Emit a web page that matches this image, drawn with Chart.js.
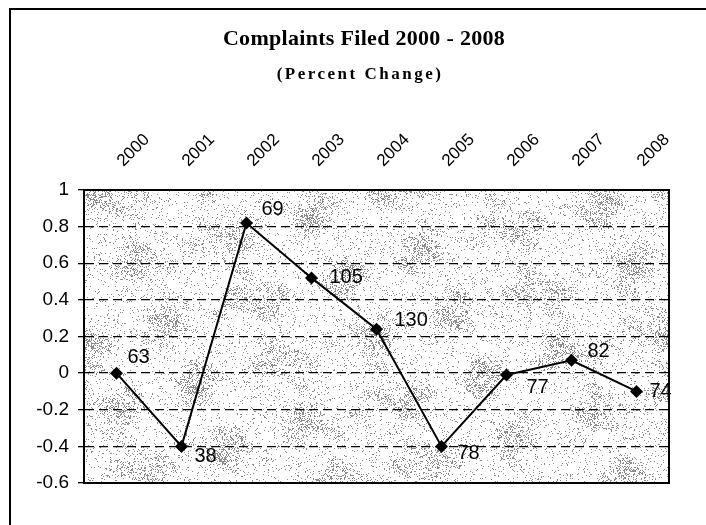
<!DOCTYPE html>
<html>
<head>
<meta charset="utf-8">
<script src="https://cdn.jsdelivr.net/npm/chart.js@4/dist/chart.umd.min.js"></script>
<style>
html,body{margin:0;padding:0;background:#fff;}
#wrap{position:relative;width:706px;height:525px;}
canvas{display:block;}
</style>
</head>
<body>
<div id="wrap"><canvas id="c" width="706" height="525"></canvas></div>
<script>
// ---- data ----
const titleText = 'Complaints Filed 2000 - 2008';
const subtitleText = '(Percent Change)';
const years = ['2000', '2001', '2002', '2003', '2004', '2005', '2006', '2007', '2008'];
const percentChange = [0, -0.4, 0.82, 0.52, 0.24, -0.4, -0.01, 0.07, -0.1];
const complaintCounts = [63, 38, 69, 105, 130, 78, 77, 82, 74];
const yTickValues = [-0.6, -0.4, -0.2, 0, 0.2, 0.4, 0.6, 0.8, 1];

// ---- styling ----
const SANS = "'Liberation Sans', Arial, sans-serif";
const SERIF = "'Liberation Serif', 'Times New Roman', serif";
// label nudges relative to each point (style only)
const labelDX = [11, 13, 15, 18, 18, 16, 20, 16, 13];
const labelDY = [-16, 10, -13, 0, -9, 7, 13, -9, 0];

let textureCanvas = null;
function hash(x, y) {
  let h = Math.imul(x, 374761393) + Math.imul(y, 668265263);
  h = Math.imul(h ^ (h >>> 13), 1274126177);
  h = h ^ (h >>> 16);
  return (h >>> 0) / 4294967295;
}
function buildTexture(w, h) {
  const c = document.createElement('canvas');
  c.width = w; c.height = h;
  const g = c.getContext('2d');
  const img = g.createImageData(w, h);
  for (let y = 0; y < h; y++) {
    for (let x = 0; x < w; x++) {
      const blob = Math.sin(x * 0.045 + y * 0.03) * Math.cos(y * 0.06 - x * 0.02) +
                   0.6 * Math.sin(x * 0.11 - y * 0.09 + 1.3) * Math.sin(y * 0.13 + 0.7);
      const d = 0.06 + 0.24 * Math.max(0, blob);
      const v = hash(x, y) < d ? 140 : 255;
      const i = (y * w + x) * 4;
      img.data[i] = v; img.data[i + 1] = v; img.data[i + 2] = v; img.data[i + 3] = 255;
    }
  }
  g.putImageData(img, 0, 0);
  return c;
}

const backgroundPlugin = {
  id: 'bg',
  beforeDraw(chart) {
    const ctx = chart.ctx;
    const a = chart.chartArea;
    ctx.save();
    ctx.fillStyle = '#fff';
    ctx.fillRect(0, 0, chart.width, chart.height);
    // page frame (top and left)
    ctx.strokeStyle = '#000';
    ctx.lineWidth = 2;
    ctx.beginPath();
    ctx.moveTo(10, 525);
    ctx.lineTo(10, 9);
    ctx.lineTo(706, 9);
    ctx.stroke();
    // textured plot area
    const w = Math.round(a.right - a.left), h = Math.round(a.bottom - a.top);
    if (!textureCanvas || textureCanvas.width !== w || textureCanvas.height !== h) {
      textureCanvas = buildTexture(w, h);
    }
    ctx.drawImage(textureCanvas, Math.round(a.left), Math.round(a.top));
    ctx.restore();
  },
  beforeDatasetsDraw(chart) {
    const ctx = chart.ctx;
    const a = chart.chartArea;
    ctx.save();
    ctx.strokeStyle = '#000';
    ctx.lineWidth = 2;
    ctx.strokeRect(a.left, a.top, a.right - a.left, a.bottom - a.top);
    ctx.restore();
  }
};

const labelPlugin = {
  id: 'pointLabels',
  afterDatasetsDraw(chart) {
    const ctx = chart.ctx;
    const meta = chart.getDatasetMeta(0);
    ctx.save();
    ctx.fillStyle = '#000';
    ctx.font = '20px ' + SANS;
    ctx.textAlign = 'left';
    ctx.textBaseline = 'middle';
    meta.data.forEach((pt, i) => {
      ctx.fillText(String(complaintCounts[i]), pt.x + labelDX[i], pt.y + labelDY[i]);
    });
    ctx.restore();
  }
};

const titlePlugin = {
  id: 'titles',
  afterDraw(chart) {
    const ctx = chart.ctx;
    ctx.save();
    ctx.fillStyle = '#000';
    ctx.textAlign = 'center';
    ctx.textBaseline = 'alphabetic';
    ctx.font = 'bold 22px ' + SERIF;
    if ('letterSpacing' in ctx) ctx.letterSpacing = '0.3px';
    ctx.fillText(titleText, 364, 45);
    ctx.font = 'bold 17px ' + SERIF;
    if ('letterSpacing' in ctx) ctx.letterSpacing = '2.5px';
    ctx.fillText(subtitleText, 360, 79);
    ctx.restore();
  }
};

new Chart(document.getElementById('c').getContext('2d'), {
  type: 'line',
  data: {
    labels: years,
    datasets: [{
      data: percentChange,
      borderColor: '#000',
      borderWidth: 2,
      tension: 0,
      fill: false,
      clip: false,
      pointStyle: 'rectRot',
      pointRadius: 6.5,
      pointBackgroundColor: '#000',
      pointBorderColor: '#000',
      pointBorderWidth: 0
    }]
  },
  options: {
    responsive: false,
    animation: false,
    devicePixelRatio: 1,
    layout: { padding: { top: 0, left: 0, right: 37, bottom: 42 } },
    plugins: {
      legend: { display: false },
      title: { display: false },
      tooltip: { enabled: false }
    },
    scales: {
      x: {
        position: 'top',
        offset: true,
        grid: { display: false, drawTicks: false },
        border: { display: false },
        ticks: {
          minRotation: 45,
          maxRotation: 45,
          padding: 19,
          labelOffset: 18,
          color: '#000',
          font: { family: SANS, size: 17 }
        },
        afterFit(s) { s.height = 190; }
      },
      y: {
        min: -0.6,
        max: 1,
        afterBuildTicks(s) { s.ticks = yTickValues.map(v => ({ value: v })); },
        ticks: {
          color: '#000',
          padding: 9,
          font: { family: SANS, size: 19 },
          callback: v => String(Math.round(v * 10) / 10)
        },
        grid: {
          color: '#000',
          lineWidth: 1.3,
          tickLength: 6,
          tickBorderDash: [],
          tickColor: '#000'
        },
        border: { display: true, color: '#000', width: 2, dash: [9, 5] },
        afterFit(s) { s.width = 84; }
      }
    }
  },
  plugins: [backgroundPlugin, labelPlugin, titlePlugin]
});
</script>
</body>
</html>
